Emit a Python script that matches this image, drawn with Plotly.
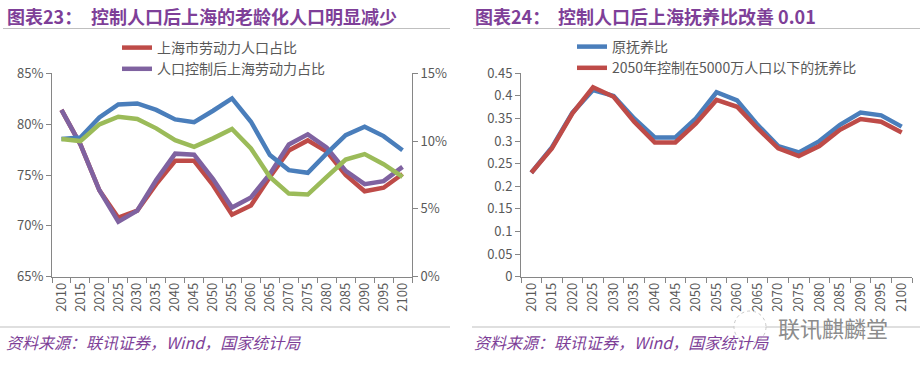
import plotly.graph_objects as go

years = [str(y) for y in range(2010, 2101, 5)]

# Chart 23 (left axis, %)
labor_share = [81.4, 78.0, 73.5, 70.8, 71.5, 74.1, 76.4, 76.4, 74.0, 71.1,
               72.0, 74.8, 77.4, 78.4, 77.3, 75.0, 73.4, 73.75, 75.1]
labor_share_ctrl = [81.4, 78.0, 73.5, 70.4, 71.5, 74.5, 77.1, 77.0, 74.6, 71.8,
                    72.8, 75.1, 78.0, 79.0, 77.7, 75.4, 74.1, 74.4, 75.8]
# Chart 23 (right axis, %)
aged_share = [10.15, 10.27, 11.75, 12.7, 12.78, 12.3, 11.6, 11.4, 12.24, 13.15,
              11.43, 8.97, 7.86, 7.66, 9.09, 10.44, 11.06, 10.37, 9.33]
aged_share_ctrl = [10.15, 10.0, 11.23, 11.8, 11.63, 10.94, 10.07, 9.58, 10.2, 10.89,
                   9.46, 7.36, 6.13, 6.06, 7.36, 8.64, 9.04, 8.3, 7.36]

# Chart 24
dep_orig = [0.230, 0.286, 0.363, 0.413, 0.400, 0.350, 0.308, 0.308, 0.350, 0.408,
            0.390, 0.336, 0.289, 0.275, 0.300, 0.336, 0.363, 0.357, 0.332]
dep_ctrl = [0.230, 0.284, 0.3615, 0.419, 0.398, 0.343, 0.297, 0.297, 0.339, 0.391,
            0.376, 0.328, 0.284, 0.267, 0.289, 0.325, 0.349, 0.343, 0.319]

BLUE = "#4A7EBB"
RED = "#BE4B48"
PURPLE = "#7F62A0"
GREEN = "#9BBB59"
TITLE = "#7E3F98"
AX = "#868686"
TXT = "#595959"
FONT = "Microsoft YaHei, Noto Sans CJK SC, sans-serif"
W, H = 920, 370
LW = 4.5

def px(x):
    return x / W

def py(y):
    return 1 - y / H

fig = go.Figure()

fig.add_trace(go.Scatter(x=years, y=aged_share, mode="lines", line=dict(color=BLUE, width=LW),
                         xaxis="x", yaxis="y2", showlegend=False))
fig.add_trace(go.Scatter(x=years, y=aged_share_ctrl, mode="lines", line=dict(color=GREEN, width=LW),
                         xaxis="x", yaxis="y2", showlegend=False))
fig.add_trace(go.Scatter(x=years, y=labor_share, mode="lines", name="上海市劳动力人口占比",
                         line=dict(color=RED, width=LW), xaxis="x", yaxis="y", legend="legend"))
fig.add_trace(go.Scatter(x=years, y=labor_share_ctrl, mode="lines", name="人口控制后上海劳动力占比",
                         line=dict(color=PURPLE, width=LW), xaxis="x", yaxis="y", legend="legend"))

fig.add_trace(go.Scatter(x=years, y=dep_orig, mode="lines", name="原抚养比",
                         line=dict(color=BLUE, width=LW), xaxis="x2", yaxis="y3", legend="legend2"))
fig.add_trace(go.Scatter(x=years, y=dep_ctrl, mode="lines", name="2050年控制在5000万人口以下的抚养比",
                         line=dict(color=RED, width=LW), xaxis="x2", yaxis="y3", legend="legend2"))

ydom = [py(276.7), py(73.3)]
xcommon = dict(type="category", tickangle=-90, tickson="boundaries", ticks="outside",
               ticklen=5, tickcolor=AX, showline=True, linecolor=AX, linewidth=1,
               showgrid=False, tickfont=dict(family=FONT, size=13, color=TXT),
               range=[-0.5, 18.5], fixedrange=True, automargin=False)
ycommon = dict(ticks="outside", ticklen=5, tickcolor=AX, showline=True, linecolor=AX,
               linewidth=1, showgrid=False, zeroline=False,
               tickfont=dict(family=FONT, size=13, color=TXT), fixedrange=True,
               automargin=False)

fig.update_layout(
    width=W, height=H, margin=dict(l=0, r=0, t=0, b=0, autoexpand=False),
    paper_bgcolor="white", plot_bgcolor="white",
    font=dict(family=FONT, color=TXT),
    xaxis=dict(domain=[px(52), px(412)], anchor="y", **xcommon),
    yaxis=dict(domain=ydom, range=[65, 85], dtick=5, ticksuffix="%", anchor="x", **ycommon),
    yaxis2=dict(range=[0, 15], dtick=5, ticksuffix="%", overlaying="y", side="right",
                anchor="x", **ycommon),
    xaxis2=dict(domain=[px(521), px(912)], anchor="y3", **xcommon),
    yaxis3=dict(domain=ydom, range=[0, 0.45], dtick=0.05, anchor="x2", **ycommon),
    legend=dict(x=px(117), y=py(32), xanchor="left", yanchor="top",
                font=dict(family=FONT, size=14, color=TXT), bgcolor="rgba(0,0,0,0)",
                tracegroupgap=0, itemwidth=30),
    legend2=dict(x=px(572), y=py(31), xanchor="left", yanchor="top",
                 font=dict(family=FONT, size=14, color=TXT), bgcolor="rgba(0,0,0,0)",
                 tracegroupgap=0, itemwidth=30),
)

ann = []
def title(x, y, text, size=18):
    ann.append(dict(x=px(x), y=py(y), xref="paper", yref="paper", xanchor="left",
                    yanchor="middle", showarrow=False, text=text,
                    font=dict(family=FONT, size=size, color=TITLE)))

title(5, 16, "<b>图表23：</b>")
title(89, 16, "<b>控制人口后上海的老龄化人口明显减少</b>")
title(473, 16, "<b>图表24：</b>")
title(556, 16, "<b>控制人口后上海抚养比改善 0.01</b>")
title(4, 342, "<i>资料来源：联讯证券，Wind，国家统计局</i>", 16)
title(472, 342, "<i>资料来源：联讯证券，Wind，国家统计局</i>", 16)
ann.append(dict(x=px(776), y=py(327), xref="paper", yref="paper", xanchor="left",
                yanchor="middle", showarrow=False, text="联讯麒麟堂",
                font=dict(family=FONT, size=22, color="#8C8C8C")))
fig.update_layout(annotations=ann)

shapes = []
def hline(x0, x1, y):
    shapes.append(dict(type="line", xref="paper", yref="paper", x0=px(x0), x1=px(x1),
                       y0=py(y), y1=py(y), line=dict(color="#BFBFBF", width=1)))
hline(3, 450, 28.5)
hline(473, 920, 28.5)
hline(0, 450, 327)
hline(472, 920, 327)
shapes.append(dict(type="circle", xref="paper", yref="paper", x0=px(734), x1=px(766),
                   y0=py(343), y1=py(311), line=dict(color="#C8C8C8", width=1, dash="dot"),
                   fillcolor="rgba(255,255,255,0.6)"))
fig.update_layout(shapes=shapes)

fig.write_html("out.html", config={"displayModeBar": False},
               post_script="document.body.style.margin='0';document.body.style.overflow='hidden';")
